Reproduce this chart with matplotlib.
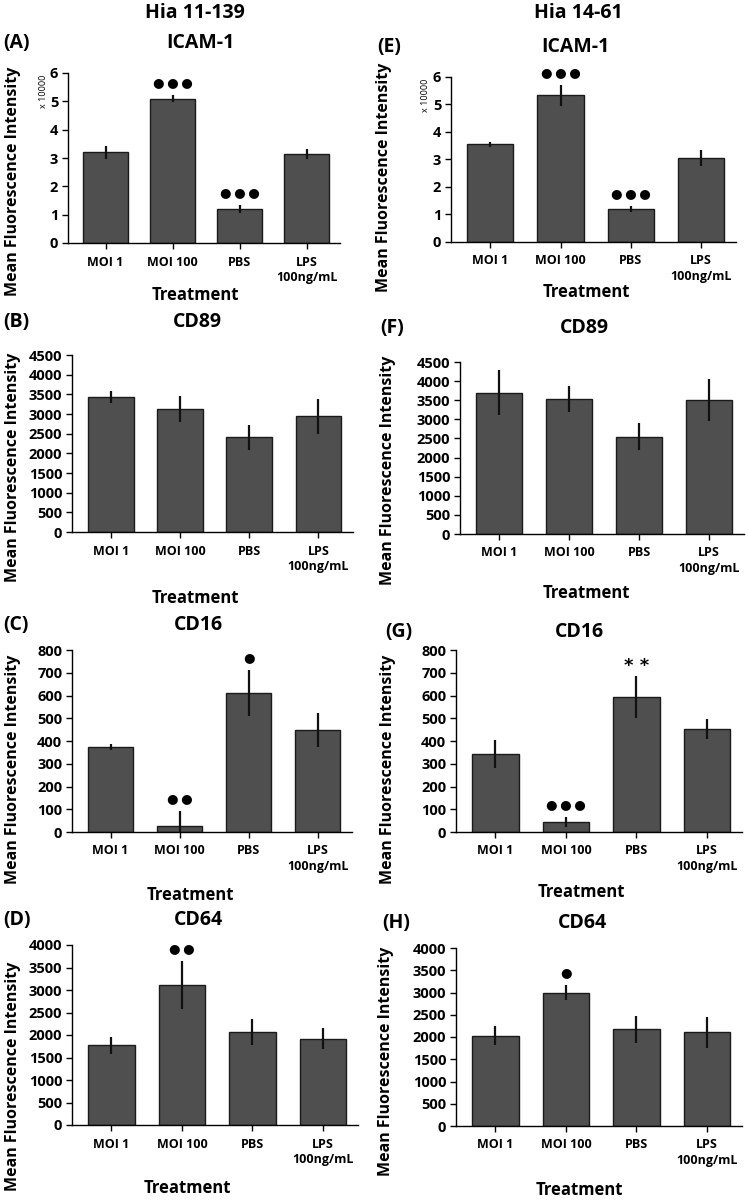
import matplotlib
matplotlib.use("Agg")
import matplotlib.pyplot as plt

plt.rcParams['font.family'] = ['Open Sans', 'DejaVu Sans']
plt.rcParams['font.weight'] = 'bold'

W, H = 748, 1201

# categories shared by all panels
treatments = ["MOI 1", "MOI 100", "PBS", "LPS\n100ng/mL"]

# Hia 11-139
icam_a = [3.2, 5.1, 1.2, 3.15]
icam_a_err = [0.22, 0.12, 0.13, 0.17]
cd89_b = [3430, 3120, 2410, 2940]
cd89_b_err = [150, 330, 320, 450]
cd16_c = [375, 28, 612, 450]
cd16_c_err = [13, 65, 100, 75]
cd64_d = [1770, 3110, 2060, 1920]
cd64_d_err = [190, 540, 290, 240]

# Hia 14-61
icam_e = [3.55, 5.33, 1.2, 3.05]
icam_e_err = [0.1, 0.38, 0.12, 0.28]
cd89_f = [3700, 3530, 2550, 3500]
cd89_f_err = [590, 350, 360, 550]
cd16_g = [343, 45, 592, 453]
cd16_g_err = [62, 22, 92, 45]
cd64_h = [2030, 3000, 2170, 2110]
cd64_h_err = [210, 160, 300, 350]

# significance marks above bars
sig_a = ["", "●●●", "●●●", ""]
sig_b = ["", "", "", ""]
sig_c = ["", "●●", "●", ""]
sig_d = ["", "●●", "", ""]
sig_e = ["", "●●●", "●●●", ""]
sig_f = ["", "", "", ""]
sig_g = ["", "●●●", "**", ""]
sig_h = ["", "●", "", ""]

fig = plt.figure(figsize=(W / 100, H / 100), dpi=100)


def px(x, y):
    return x / W, 1 - y / H


def panel(box, vals, errs, sig, ymax, ystep, letter, name, lettxy, namexy, treatxy, ylabxy, scale=False):
    l, t, r, b = box
    ax = fig.add_axes([l / W, 1 - b / H, (r - l) / W, (b - t) / H])
    xs = range(len(vals))
    ax.bar(xs, vals, width=0.66, color='#4f4f4f', edgecolor='#1a1a1a', linewidth=1.0, zorder=2)
    ax.errorbar(xs, vals, yerr=errs, fmt='none', ecolor='#111111', elinewidth=1.6, capsize=0, zorder=3)
    for i in xs:
        if sig[i]:
            top = vals[i] + errs[i]
            if sig[i] == "**":
                ax.annotate(" ".join(sig[i]), (i, top), xytext=(0, 1), textcoords='offset points',
                            ha='center', va='bottom', fontsize=13, family='DejaVu Sans', fontweight='bold')
            else:
                ax.annotate("\u2009".join(sig[i]), (i, top), xytext=(0, 9), textcoords='offset points',
                            ha='center', va='center', fontsize=9.5, family='DejaVu Sans')
    ax.set_xlim(-0.56, 3.5)
    ax.set_ylim(0, ymax)
    yt = []
    v = 0
    while v <= ymax + 1e-9:
        yt.append(v)
        v += ystep
    ax.set_yticks(yt, labels=[str(int(y)) for y in yt], fontsize=10.5, fontweight='bold')
    ax.set_xticks(list(xs), labels=treatments, fontsize=9, fontweight='bold', linespacing=1.25)
    ax.tick_params(axis='y', length=4, width=1.0, pad=3)
    ax.tick_params(axis='x', length=4, width=1.0, pad=5)
    for s in ['top', 'right']:
        ax.spines[s].set_visible(False)
    for s in ['left', 'bottom']:
        ax.spines[s].set_linewidth(1.0)
    fig.text(*px(*lettxy), letter, fontsize=14, fontweight='bold', ha='left', va='center')
    fig.text(*px(*namexy), name, fontsize=14, fontweight='bold', ha='center', va='center')
    fig.text(*px(*treatxy), "Treatment", fontsize=12, fontweight='bold', ha='center', va='center')
    fig.text(*px(*ylabxy), "Mean Fluorescence Intensity", fontsize=11.5, fontweight='bold',
             ha='center', va='center', rotation=90)
    if scale:
        fig.text(*px(l - 25, t + 18), "x 10000", fontsize=6.5, fontweight='normal', ha='center', va='center',
                 rotation=90)
    return ax


panel((68, 73, 340, 243), icam_a, icam_a_err, sig_a, 6, 1, "(A)", "ICAM-1", (3, 43), (200, 43), (195, 295), (13, 181), scale=True)
panel((72, 355, 353, 532), cd89_b, cd89_b_err, sig_b, 4500, 500, "(B)", "CD89", (3, 322), (197, 322), (195, 598), (13, 467))
panel((72, 650, 352, 832), cd16_c, cd16_c_err, sig_c, 800, 100, "(C)", "CD16", (3, 625), (198, 625), (190, 895), (13, 769))
panel((72, 945, 358, 1125), cd64_d, cd64_d_err, sig_d, 4000, 500, "(D)", "CD64", (3, 920), (198, 920), (187, 1188), (13, 1076))

panel((451, 77, 736, 242), icam_e, icam_e_err, sig_e, 6, 1, "(E)", "ICAM-1", (377, 47), (575, 47), (586, 292), (384, 177), scale=True)
panel((460, 362, 744, 534), cd89_f, cd89_f_err, sig_f, 4500, 500, "(F)", "CD89", (380, 328), (584, 328), (586, 593), (388, 470))
panel((456, 650, 742, 832), cd16_g, cd16_g_err, sig_g, 800, 100, "(G)", "CD16", (385, 632), (579, 632), (581, 892), (388, 769))
panel((456, 948, 742, 1126), cd64_h, cd64_h_err, sig_h, 4000, 500, "(H)", "CD64", (382, 923), (582, 923), (579, 1190), (386, 1061))

fig.text(*px(195, 13), "Hia 11-139", fontsize=14, fontweight='bold', ha='center', va='center')
fig.text(*px(578, 13), "Hia 14-61", fontsize=14, fontweight='bold', ha='center', va='center')

fig.savefig("out.png", dpi=100)
